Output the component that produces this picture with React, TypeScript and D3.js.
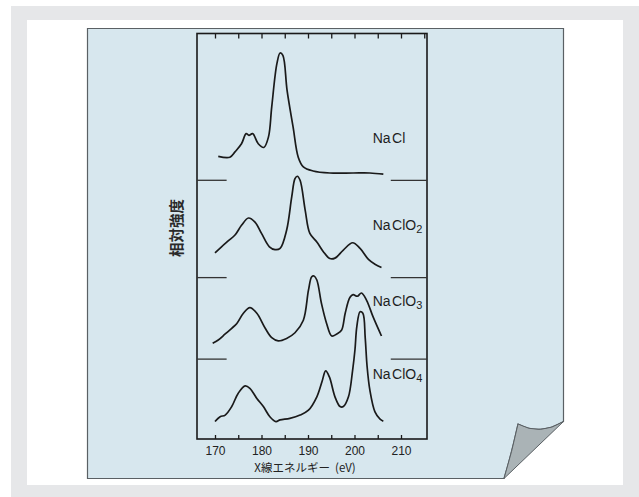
import * as d3 from "d3";
import React, { useEffect, useRef } from "react";

// spectra: [energy eV, relative intensity]
const naclData: [number, number][] = [
  [170.7, 5.9], [173.2, 5.7], [174.3, 7.0], [175.7, 9.0], [176.7, 11.5], [177.3, 11.1],
  [178.1, 11.5], [179.3, 9.0], [180.5, 8.1], [181.5, 10.7], [182.2, 18.1], [183.3, 28.7],
  [184.0, 31.4], [184.6, 30.8], [185.5, 22.2], [186.8, 13.1], [187.9, 5.7], [189.0, 3.3],
  [191.1, 2.3], [194.7, 1.8], [199.7, 1.8], [203.3, 1.8], [206.2, 1.5],
];
const naclo2Data: [number, number][] = [
  [170.0, 6.1], [171.4, 7.6], [172.9, 9.1], [174.3, 10.5], [175.7, 12.9], [177.2, 14.7],
  [178.6, 13.7], [180.0, 10.9], [181.7, 7.6], [182.9, 6.9], [184.0, 7.2], [185.4, 11.7],
  [186.5, 19.9], [187.2, 24.4], [187.7, 25.0], [188.3, 24.0], [189.4, 16.6], [190.4, 10.9],
  [191.9, 8.8], [193.3, 6.4], [194.7, 4.7], [195.8, 4.8], [197.6, 6.8], [199.6, 8.6],
  [201.2, 7.2], [203.0, 4.5], [204.4, 3.3], [205.8, 2.5],
];
const naclo3Data: [number, number][] = [
  [169.5, 3.9], [170.7, 4.7], [172.2, 6.2], [173.6, 7.6], [174.7, 8.8], [176.1, 11.3],
  [177.5, 12.7], [179.0, 11.3], [180.8, 7.6], [182.2, 5.3], [183.6, 4.5], [185.4, 5.1],
  [187.2, 6.5], [189.0, 9.6], [190.1, 17.0], [190.8, 20.3], [191.3, 20.5], [191.9, 19.5],
  [192.9, 13.7], [194.0, 8.8], [195.1, 5.7], [196.2, 6.2], [197.2, 7.1], [198.0, 11.3],
  [199.0, 15.2], [199.7, 15.9], [200.6, 15.5], [201.5, 16.3], [202.6, 14.5], [204.0, 10.4],
  [205.8, 5.7],
];
const naclo4Data: [number, number][] = [
  [170.0, 4.3], [171.1, 5.5], [172.2, 5.9], [173.6, 8.0], [175.0, 11.3], [176.5, 13.1],
  [177.5, 12.5], [179.0, 10.0], [180.4, 8.0], [181.8, 5.5], [183.1, 4.3], [184.0, 4.7],
  [186.1, 5.1], [188.3, 5.9], [190.1, 7.1], [191.9, 10.4], [193.0, 14.1], [193.8, 16.8],
  [194.6, 15.3], [195.8, 10.4], [196.9, 8.0], [197.6, 8.0], [198.7, 10.4], [199.6, 17.0],
  [200.1, 22.0], [200.5, 27.7], [201.2, 31.4], [201.8, 31.0], [202.3, 25.0], [202.7, 18.0],
  [203.3, 12.1], [204.4, 6.7], [205.5, 4.9], [206.2, 4.4],
];

const compounds = ["NaCl", "NaClO", "NaClO", "NaClO"];
const subscripts = ["", "2", "3", "4"];
const spectra = [naclData, naclo2Data, naclo3Data, naclo4Data];
const offsets = [63.8, 39.8, 19.7, 0]; // baseline of each trace
const separators = [63.8, 39.8, 19.7];
const topTicks = [170, 175, 180, 185, 190, 195, 200, 205, 210, 215];
const bottomTicks = [170, 175, 180, 185, 190, 195, 200, 205, 210];
const tickLabels = [170, 180, 190, 200, 210];

export default function App() {
  const ref = useRef<HTMLDivElement>(null);

  useEffect(() => {
    const width = 639;
    const height = 497;
    d3.select(ref.current).select("svg").remove();

    const svg = d3
      .select(ref.current)
      .append("svg")
      .attr("width", width)
      .attr("height", height)
      .style("display", "block");

    // backdrop
    svg.append("rect").attr("width", width).attr("height", height).attr("fill", "#ffffff");
    svg.append("rect").attr("x", 11).attr("y", 6).attr("width", width - 11).attr("height", height - 6).attr("fill", "#e6e7e9");
    svg.append("rect").attr("x", 27).attr("y", 20).attr("width", 596).attr("height", 465).attr("fill", "#ffffff");

    // paper with curled corner
    const page = d3.path();
    page.moveTo(87.5, 28.5);
    page.lineTo(563.5, 28.5);
    page.lineTo(563.5, 421.5);
    page.quadraticCurveTo(540, 436, 518, 424);
    page.quadraticCurveTo(512, 452, 504, 478.5);
    page.lineTo(87.5, 478.5);
    page.closePath();
    svg.append("path").attr("d", page.toString()).attr("fill", "#d7e7ee").attr("stroke", "#5a6064").attr("stroke-width", 1.2);

    const curl = d3.path();
    curl.moveTo(563.5, 421.5);
    curl.quadraticCurveTo(540, 436, 518, 424);
    curl.quadraticCurveTo(512, 452, 504, 478.5);
    curl.closePath();
    svg.append("path").attr("d", curl.toString()).attr("fill", "#aab3b6").attr("stroke", "#5a6064").attr("stroke-width", 1);

    const left = 197;
    const right = 427;
    const top = 33.5;
    const bottom = 439;

    const x = d3.scaleLinear().domain([170, 210]).range([215, 401]);
    const y = d3.scaleLinear().domain([0, 100]).range([bottom, top]);

    const ink = "#1a1a1a";

    // frame
    svg.append("rect").attr("x", left).attr("y", top).attr("width", right - left).attr("height", bottom - top)
      .attr("fill", "none").attr("stroke", ink).attr("stroke-width", 1.6);

    const topAxis = svg.append("g").attr("transform", `translate(0,${top})`)
      .call(d3.axisTop(x).tickValues(topTicks).tickSize(-5).tickFormat(() => ""));
    topAxis.select(".domain").remove();
    topAxis.selectAll("line").attr("stroke", ink).attr("stroke-width", 1.3);

    const bottomAxis = svg.append("g").attr("transform", `translate(0,${bottom})`)
      .call(d3.axisBottom(x).tickValues(bottomTicks).tickSize(-4).tickPadding(7)
        .tickFormat((d) => (tickLabels.includes(d as number) ? String(d) : "")));
    bottomAxis.select(".domain").remove();
    bottomAxis.selectAll("line").attr("stroke", ink).attr("stroke-width", 1.3);
    bottomAxis.selectAll("text")
      .attr("font-family", "'Liberation Sans', Arial, sans-serif")
      .attr("font-size", 12)
      .attr("fill", "#222");

    // separators between traces
    const sep = svg.append("g").attr("stroke", "#333").attr("stroke-width", 1.3);
    separators.forEach((s) => {
      sep.append("line").attr("x1", left).attr("x2", x(172.5)).attr("y1", y(s)).attr("y2", y(s));
      sep.append("line").attr("x1", x(207.8)).attr("x2", right).attr("y1", y(s)).attr("y2", y(s));
    });

    const line = d3.line<[number, number]>().curve(d3.curveCatmullRom.alpha(0.5));

    spectra.forEach((data, i) => {
      line.x((d) => x(d[0])).y((d) => y(d[1] + offsets[i]));
      svg.append("path").attr("d", line(data)).attr("fill", "none")
        .attr("stroke", ink).attr("stroke-width", 1.7).attr("stroke-linejoin", "round");
    });

    const labelLift = [9.1, 11.7, 13.1, 14.8];
    spectra.forEach((_, i) => {
      const t = svg.append("text")
        .attr("x", x(203.9))
        .attr("y", y(offsets[i] + labelLift[i]))
        .attr("font-family", "'Liberation Sans', Arial, sans-serif")
        .attr("font-size", 14)
        .attr("fill", "#1e1e1e");
      t.append("tspan").text(compounds[i].slice(0, 2));
      t.append("tspan").attr("dx", 1.5).text(compounds[i].slice(2));
      if (subscripts[i]) {
        t.append("tspan").attr("font-size", 11).attr("dy", 3).text(subscripts[i]);
      }
    });

    // axis titles
    svg.append("text")
      .attr("x", 305)
      .attr("y", 472)
      .attr("text-anchor", "middle")
      .attr("font-family", "'Noto Sans CJK JP', sans-serif")
      .attr("font-size", 11.5)
      .attr("fill", "#222")
      .attr("xml:space", "preserve")
      .text("X線エネルギー  (eV)");

    svg.append("text")
      .attr("transform", "translate(182,228) rotate(-90)")
      .attr("text-anchor", "middle")
      .attr("font-family", "'Noto Sans CJK JP', sans-serif")
      .attr("font-size", 14.5)
      .attr("font-weight", "bold")
      .attr("fill", "#2a2a2a")
      .text("相対強度");
  }, []);

  return <div ref={ref} style={{ position: "absolute", left: 0, top: 0 }} />;
}
